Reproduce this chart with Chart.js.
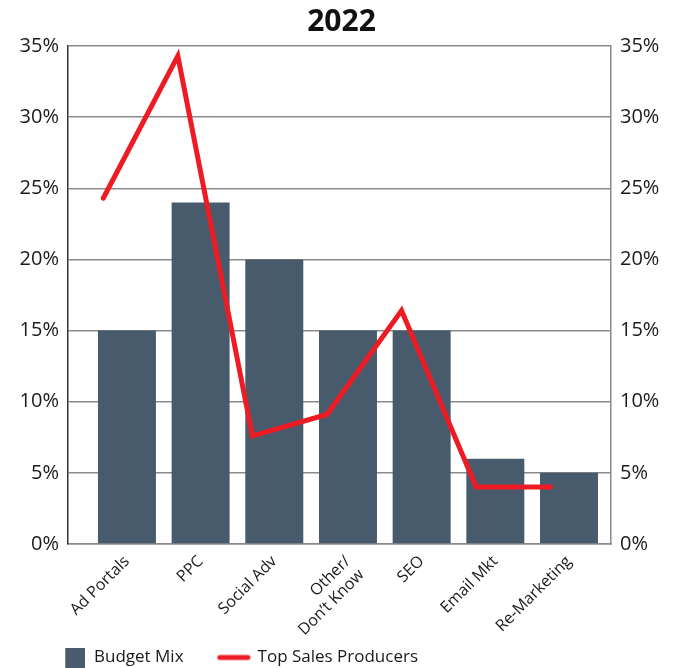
<!DOCTYPE html>
<html>
<head>
<meta charset="utf-8">
<script src="https://cdn.jsdelivr.net/npm/chart.js@4"></script>
<style>
  html, body { margin: 0; padding: 0; background: #fff; }
  #wrap { width: 677px; height: 668px; }
</style>
</head>
<body>
<div id="wrap"><canvas id="mix"></canvas></div>
<script>
const categories = ["Ad Portals", "PPC", "Social Adv", ["Other/", "Don\u2019t Know"], "SEO", "Email Mkt", "Re-Marketing"];
const budgetMix = [15, 24, 20, 15, 15, 6, 5];
const topSales = [24.3, 34.3, 7.6, 9.1, 16.4, 4.0, 4.0];
const yTicks = [0, 5, 10, 15, 20, 25, 30, 35];

const FONT = "'Open Sans', 'Noto Sans', sans-serif";
const SLATE = "#485b6c";
const RED = "#ed1c24";
const GRID = "#8a8a8a";

const bars = budgetMix.map((v, i) => ({ x: i, y: v }));
const line = topSales.map((v, i) => ({ x: i, y: v }));

// legend swatches: a square for the bars, a short stroke for the line
function swatch(w, h, draw) {
  const c = document.createElement("canvas");
  c.width = w;
  c.height = h;
  draw(c.getContext("2d"));
  return c;
}
const barSwatch = swatch(64, 20, ctx => {
  ctx.fillStyle = SLATE;
  ctx.fillRect(44, 0, 20, 20);
});
const lineSwatch = swatch(68, 8, ctx => {
  ctx.strokeStyle = RED;
  ctx.lineWidth = 5;
  ctx.lineCap = "round";
  ctx.beginPath();
  ctx.moveTo(37, 4);
  ctx.lineTo(65, 4);
  ctx.stroke();
});

const pctAxis = (pos) => ({
  type: "linear",
  position: pos,
  min: 0,
  max: 35,
  afterBuildTicks: (s) => { s.ticks = yTicks.map(v => ({ value: v })); },
  afterFit: (s) => { s.width = pos === "left" ? 48 : 52; },
  ticks: {
    callback: v => v + "%",
    color: "#1a1a1a",
    font: { family: FONT, size: 20 },
    padding: 9
  },
  grid: { display: pos === "left", color: GRID, lineWidth: 1.5, drawTicks: false },
  border: { display: true, color: pos === "left" ? "#333" : GRID, width: 1.5 }
});

new Chart(document.getElementById("mix"), {
  data: {
    datasets: [
      {
        type: "bar",
        label: "Budget Mix",
        data: bars,
        xAxisID: "x",
        yAxisID: "y",
        backgroundColor: SLATE,
        borderWidth: 0,
        grouped: false,
        categoryPercentage: 1,
        barPercentage: 0.787,
        pointStyle: barSwatch,
        order: 1
      },
      {
        type: "line",
        label: "Top Sales Producers",
        data: line,
        xAxisID: "x2",
        yAxisID: "y",
        borderColor: RED,
        backgroundColor: RED,
        borderWidth: 5,
        borderCapStyle: "round",
        borderJoinStyle: "miter",
        pointRadius: 0,
        pointStyle: lineSwatch,
        tension: 0,
        order: 0
      }
    ]
  },
  options: {
    responsive: true,
    maintainAspectRatio: false,
    animation: false,
    layout: { padding: { left: 20, right: 14, bottom: -8, top: 0 } },
    scales: {
      x: {
        type: "linear",
        position: "bottom",
        offset: false,
        min: -0.8,
        max: 6.57,
        afterBuildTicks: (s) => { s.ticks = budgetMix.map((_, i) => ({ value: i })); },
        afterFit: (s) => { s.height = 104; },
        ticks: {
          autoSkip: false,
          maxRotation: 45,
          minRotation: 45,
          padding: 8,
          color: "#1a1a1a",
          font: { family: FONT, size: 16 },
          callback: v => categories[v]
        },
        grid: { display: false, drawTicks: false },
        border: { display: true, color: GRID, width: 1.5 }
      },
      // the sales line sits on its own, slightly wider x range
      x2: {
        type: "linear",
        display: false,
        offset: false,
        min: -0.473,
        max: 6.809
      },
      y: pctAxis("left"),
      y1: pctAxis("right")
    },
    plugins: {
      title: {
        display: true,
        text: "2022",
        color: "#111",
        font: { family: FONT, size: 30, weight: "bold" },
        padding: { top: 4, bottom: 6 }
      },
      legend: {
        position: "bottom",
        align: "start",
        labels: {
          usePointStyle: true,
          pointStyleWidth: 64.5,
          padding: 1,
          color: "#1a1a1a",
          font: { family: FONT, size: 17 },
          sort: (a, b) => a.datasetIndex - b.datasetIndex
        }
      },
      tooltip: { enabled: false }
    }
  }
});
</script>
</body>
</html>
